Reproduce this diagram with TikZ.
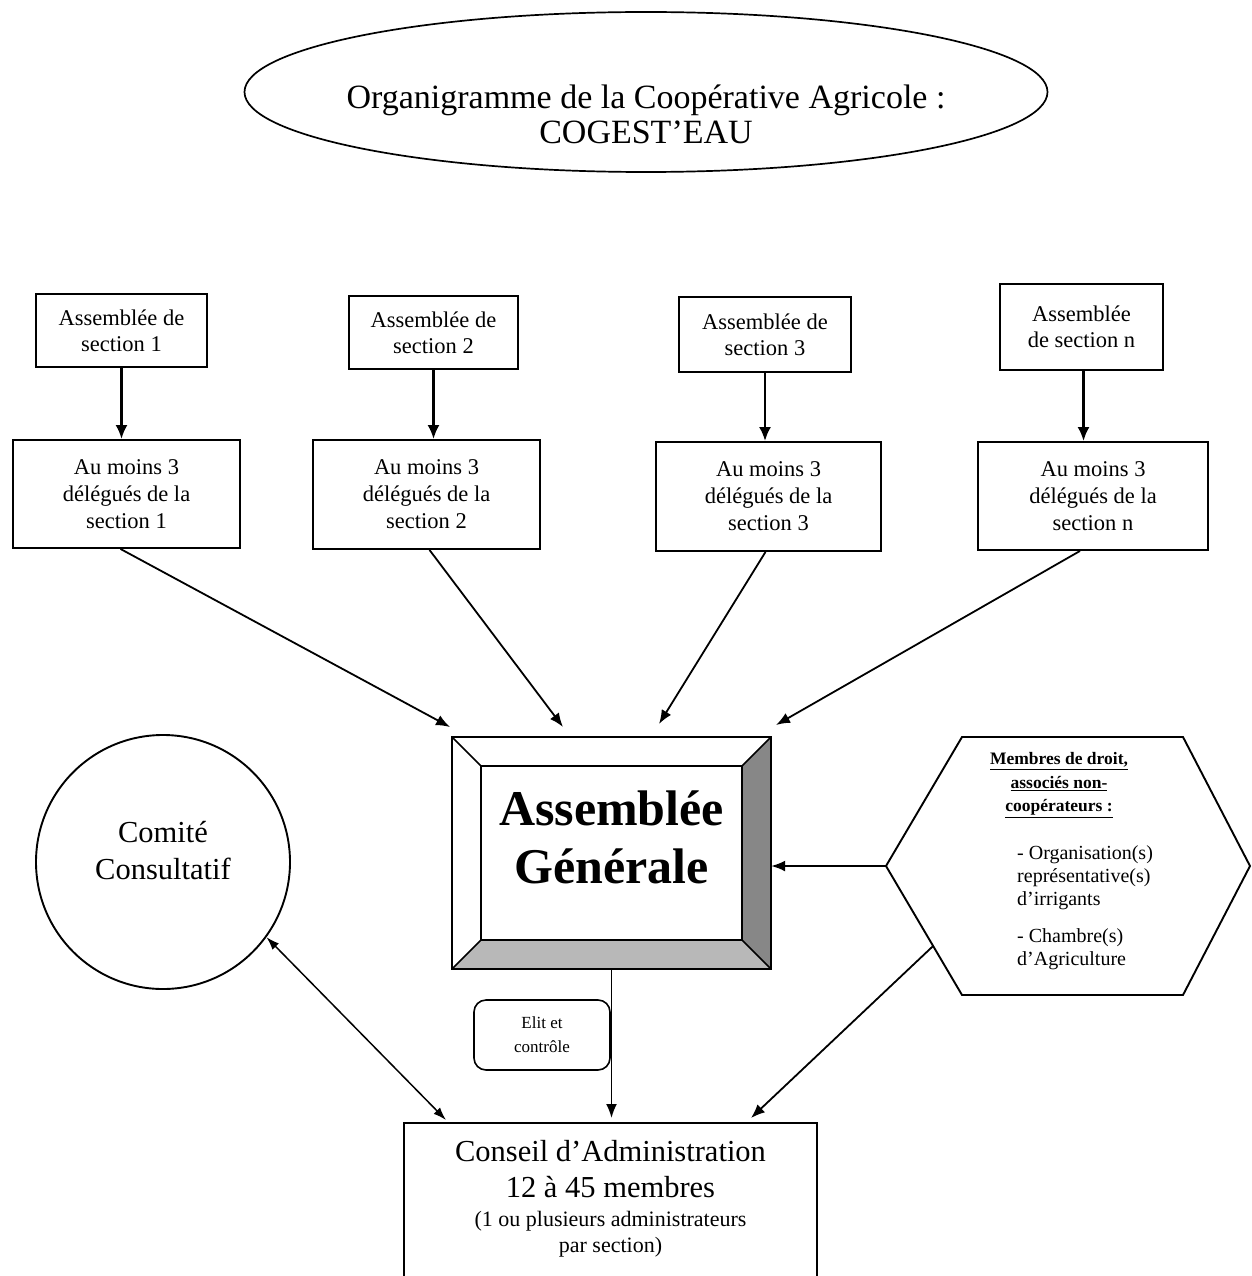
\documentclass[tikz,border=0pt]{standalone}
\usepackage{fontspec}
\setmainfont{Liberation Serif}
\usetikzlibrary{arrows.meta,shapes.geometric,calc}
\begin{document}
\begin{tikzpicture}[x=1pt,y=-1pt,
  box/.style={draw,line width=1.9pt,inner sep=0pt,align=center},
  sbox/.style={box,font=\fontsize{22.5}{26}\selectfont},
  dbox/.style={box,font=\fontsize{22.5}{27}\selectfont},
  arr/.style={line width=1.8pt,-{Latex[length=14pt,width=11pt]}},
  varr/.style={line width=2.4pt,-{Latex[length=14pt,width=12pt]}},
  darr/.style={line width=1.5pt,{Latex[length=13pt,width=9pt]}-{Latex[length=13pt,width=9pt]}},
  txt/.style={inner sep=0pt,align=center}]
\useasboundingbox (0,0) rectangle (1251,1276);
\fill[white] (0,0) rectangle (1251,1276);

% title
\node[draw,ellipse,line width=1.7pt,minimum width=803pt,minimum height=160pt,inner sep=0pt] (title) at (646,92) {};
\node[txt,font=\fontsize{34}{35}\selectfont] (titletxt) at (646,114) {Organigramme de la Coopérative Agricole :\\COGEST’EAU};

% section assemblies
\node[sbox,minimum width=171pt,minimum height=73pt] (a1) at (121.5,330.5) {Assemblée de\\section 1};
\node[sbox,minimum width=169pt,minimum height=73pt] (a2) at (433.5,332.5) {Assemblée de\\section 2};
\node[sbox,minimum width=172pt,minimum height=75pt] (a3) at (765,334.5) {Assemblée de\\section 3};
\node[sbox,minimum width=163pt,minimum height=86pt] (a4) at (1081.5,327) {Assemblée\\de section n};

% delegates
\node[dbox,minimum width=227pt,minimum height=108pt] (b1) at (126.5,494) {Au moins 3\\délégués de la\\section 1};
\node[dbox,minimum width=227pt,minimum height=109pt] (b2) at (426.5,494.5) {Au moins 3\\délégués de la\\section 2};
\node[dbox,minimum width=225pt,minimum height=109pt] (b3) at (768.5,496.5) {Au moins 3\\délégués de la\\section 3};
\node[dbox,minimum width=230pt,minimum height=108pt] (b4) at (1093,496) {Au moins 3\\délégués de la\\section n};

\draw[varr] (a1.south) -- (a1.south |- b1.north);
\draw[varr] (a2.south) -- (a2.south |- b2.north);
\draw[varr] (a3.south) -- (a3.south |- b3.north);
\draw[varr] ([xshift=2pt]a4.south) -- ([xshift=2pt]a4.south |- b4.north);

% Assemblee generale
\node[minimum width=319pt,minimum height=232pt,inner sep=0pt] (ag) at (611.5,853) {};
\node[minimum width=261pt,minimum height=174pt,inner sep=0pt] (agin) at (611.5,853) {};
\fill[black!47] (ag.north east) -- (ag.south east) -- (agin.south east) -- (agin.north east) -- cycle;
\fill[black!28] (ag.south west) -- (ag.south east) -- (agin.south east) -- (agin.south west) -- cycle;
\draw[line width=2.2pt] (ag.north west) rectangle (ag.south east);
\draw[line width=2.2pt] (agin.north west) rectangle (agin.south east);
\draw[line width=1.7pt] (ag.north west) -- (agin.north west) (ag.north east) -- (agin.north east)
  (ag.south east) -- (agin.south east) (ag.south west) -- (agin.south west);
\node[txt,font=\bfseries\fontsize{50}{58}\selectfont] (agtxt) at (611.5,837) {Assemblée\\Générale};

\coordinate (g1) at (450,727);
\coordinate (g2) at (563,727);
\coordinate (g3) at (659,724);
\coordinate (g4) at (776,725);
\draw[arr] ([xshift=-6pt]b1.south) -- (g1);
\draw[arr] ([xshift=3pt]b2.south) -- (g2);
\draw[arr] ([xshift=-3pt]b3.south) -- (g3);
\draw[arr] ([xshift=-13pt]b4.south) -- (g4);

% comite consultatif
\node[draw,circle,line width=1.9pt,minimum size=254pt,inner sep=0pt] (cc) at (163,862) {};
\node[txt,font=\fontsize{30.5}{37}\selectfont] (cctxt) at (163,851) {Comité\\Consultatif};

% hexagon
\coordinate (hexL) at (886,866);
\coordinate (hexTL) at (962,737);
\coordinate (hexTR) at (1183,737);
\coordinate (hexR) at (1250,866);
\coordinate (hexBR) at (1183,995);
\coordinate (hexBL) at (962,995);
\draw[line width=1.9pt,line join=miter] (hexL) -- (hexTL) -- (hexTR) -- (hexR) -- (hexBR) -- (hexBL) -- cycle;
\node[txt,font=\bfseries\fontsize{17.5}{23.5}\selectfont] (hextitle) at (1059,785) {\underline{Membres de droit,}\\\underline{associés non-}\\\underline{coopérateurs :}};
\node[inner sep=0pt,align=left,anchor=north west,font=\fontsize{20}{23}\selectfont] (hexitems) at (1017,845) {- Organisation(s)\\représentative(s)\\d’irrigants\\[14pt]- Chambre(s)\\d’Agriculture};
\coordinate (hexS) at ($(hexL)!0.62!(hexBL)$);

\draw[arr] (hexL) -- (hexL -| ag.east);

% conseil d'administration
\node[draw,line width=1.9pt,minimum width=413pt,minimum height=180pt,inner sep=0pt,anchor=north] (ca) at (610.5,1122) {};
\node[txt,font=\fontsize{30.5}{36}\selectfont,anchor=north] (ca1) at (610.5,1140) {Conseil d’Administration\\12 à 45 membres};
\node[txt,font=\fontsize{22}{26}\selectfont,anchor=north] (ca2) at (610.5,1211) {(1 ou plusieurs administrateurs\\par section)};

\coordinate (caL) at (446,1120);
\coordinate (caR) at (751,1118);
\draw[arr] (ag.south) -- (ag.south |- caR);
\draw[arr] (hexS) -- (caR);
\draw[darr] (cc.-36) -- (caL);

% elit et controle
\node[draw,line width=1.6pt,rounded corners=12pt,minimum width=136pt,minimum height=70pt,inner sep=0pt,align=center,font=\fontsize{17}{24}\selectfont] (elit) at (542,1035) {Elit et\\contrôle};
\end{tikzpicture}
\end{document}
